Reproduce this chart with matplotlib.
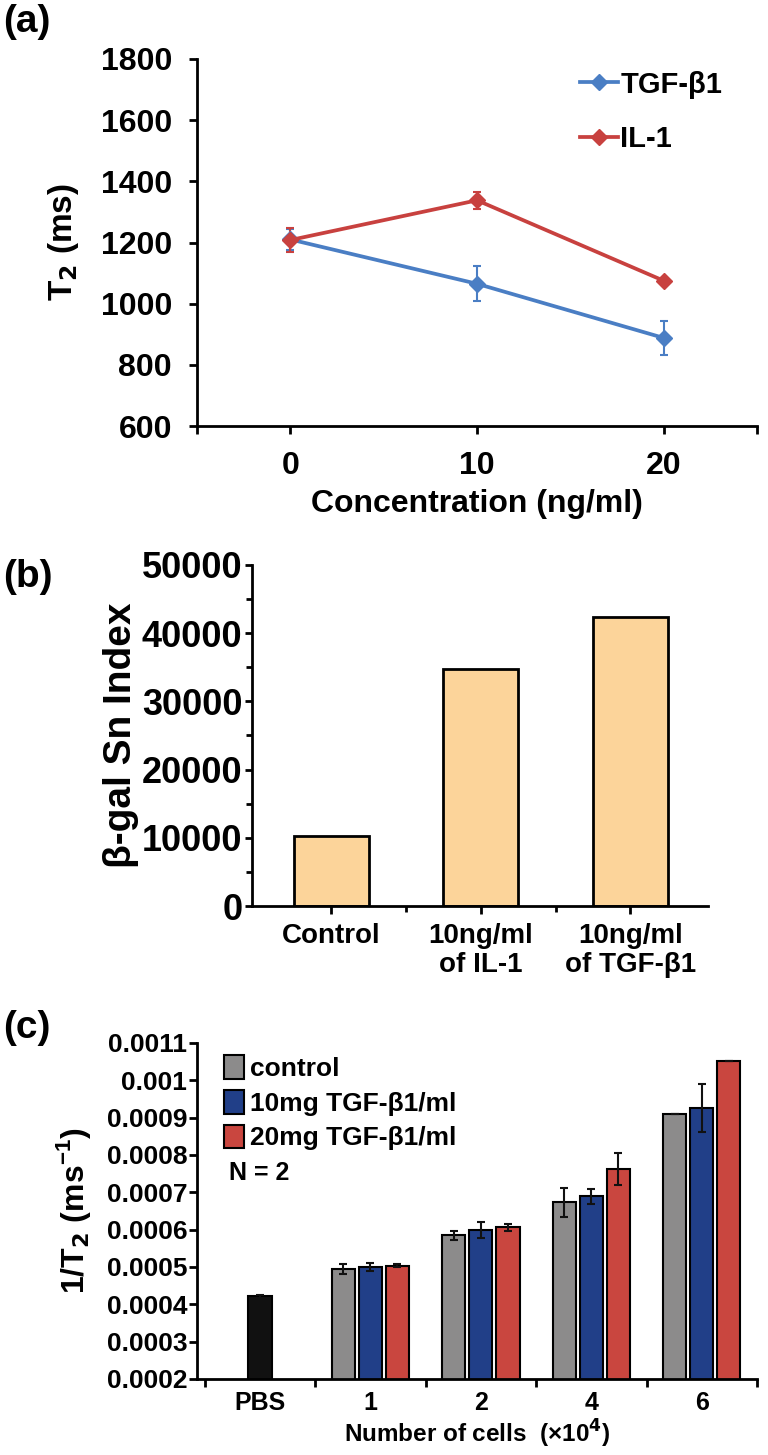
import matplotlib
matplotlib.use("Agg")
import matplotlib.pyplot as plt
import numpy as np

plt.rcParams['font.family'] = ['Liberation Sans', 'DejaVu Sans']
plt.rcParams['font.weight'] = 'bold'
plt.rcParams['mathtext.default'] = 'bf'

# ---------------- data ----------------
# (a)
conc = [0, 10, 20]
tgf_t2 = [1210, 1065, 888]
tgf_err = [35, 57, 55]
il1_t2 = [1208, 1338, 1075]
il1_err = [38, 27, 10]

# (b)
b_cats = ['Control', '10ng/ml\nof IL-1', '10ng/ml\nof TGF-β1']
b_vals = [10200, 34700, 42400]

# (c)
c_groups = ['PBS', '1', '2', '4', '6']
pbs_val = 0.000421
pbs_err = 0.000003
ctrl_vals = [0.000494, 0.000585, 0.000673, 0.000910]
ctrl_err = [0.000013, 0.000012, 0.000038, 0.0]
t10_vals = [0.000500, 0.000600, 0.000689, 0.000926]
t10_err = [0.000012, 0.000021, 0.000021, 0.000064]
t20_vals = [0.000504, 0.000606, 0.000763, 0.001053]
t20_err = [0.000005, 0.000010, 0.000043, 0.0]
c_labels = ['control', '10mg TGF-β1/ml', '20mg TGF-β1/ml']

W, H = 768, 1455
fig = plt.figure(figsize=(W / 100, H / 100), dpi=100)

def ax_px(l, t, r, b):
    return fig.add_axes([l / W, 1 - b / H, (r - l) / W, (b - t) / H])

def style(ax, lw=2.0):
    for s in ['top', 'right']:
        ax.spines[s].set_visible(False)
    for s in ['left', 'bottom']:
        ax.spines[s].set_linewidth(lw)
        ax.spines[s].set_color('black')

# ---------------- (a) ----------------
axa = ax_px(197, 59, 757, 426)
style(axa)
blue = '#4a7ec4'
red = '#c8413f'
axa.errorbar(conc, tgf_t2, yerr=tgf_err, color=blue, lw=2.7, marker='D', ms=8,
             capsize=3, elinewidth=1.5, capthick=1.5, label='TGF-β1')
axa.errorbar(conc, il1_t2, yerr=il1_err, color=red, lw=2.7, marker='D', ms=8,
             capsize=3, elinewidth=1.5, capthick=1.5, label='IL-1')
axa.set_xlim(-5, 25)
axa.set_ylim(600, 1800)
axa.set_xticks([-5, 0, 10, 20, 25])
axa.set_xticklabels(['', '0', '10', '20', ''])
axa.set_yticks(np.arange(600, 1801, 200))
axa.tick_params(axis='both', direction='out', length=6, width=2, labelsize=23)
axa.tick_params(axis='y', pad=12)
axa.tick_params(axis='x', pad=12)
axa.set_xlabel('Concentration (ng/ml)', fontsize=23, fontweight='bold', labelpad=6)
axa.set_ylabel('T$_2$ (ms)', fontsize=24, fontweight='bold', labelpad=14)
h, l = axa.get_legend_handles_labels()
h = [hh[0] for hh in h]
axa.legend(h, l, loc='upper right', bbox_to_anchor=(0.985, 1.04), frameon=False,
           fontsize=21, handlelength=1.3, handletextpad=0.1, labelspacing=0.9)
fig.text(3 / W, 1 - 22 / H, '(a)', fontsize=28, fontweight='bold', va='center', ha='left')

# ---------------- (b) ----------------
axb = ax_px(252, 565, 708, 906)
style(axb)
xb = np.arange(len(b_cats))
axb.bar(xb, b_vals, width=0.5, color='#fcd49a', edgecolor='black', linewidth=2)
axb.set_xlim(-0.53, 2.52)
axb.set_ylim(0, 50000)
axb.set_xticks(xb)
axb.set_xticklabels(b_cats, fontsize=20, linespacing=1.15)
axb.set_xticks([0.5, 1.5], minor=True)
axb.set_yticks(np.arange(0, 50001, 10000))
axb.set_yticks(np.arange(5000, 50000, 10000), minor=True)
axb.tick_params(axis='y', labelsize=26, direction='out', length=5, width=2, pad=2)
axb.tick_params(axis='x', direction='out', length=6, width=2, pad=6)
axb.tick_params(which='minor', direction='out', length=4, width=2)
axb.set_ylabel('β-gal Sn Index', fontsize=28, fontweight='bold', labelpad=2)
fig.text(3 / W, 1 - 577 / H, '(b)', fontsize=28, fontweight='bold', va='center', ha='left')

# ---------------- (c) ----------------
axc = ax_px(197, 1043, 757, 1379)
style(axc)
xc = np.arange(1, len(c_groups))
bw = 0.21
off = 0.245
ek = dict(elinewidth=1.5, capsize=3, capthick=1.5, ecolor='#111111')
axc.bar([0], [pbs_val], width=bw, color='#111111', edgecolor='black', linewidth=1.5,
        yerr=[pbs_err], error_kw=ek)
cols = ['#8c8b8b', '#213f88', '#c9463f']
for i, (vals, errs, lab) in enumerate(zip([ctrl_vals, t10_vals, t20_vals],
                                          [ctrl_err, t10_err, t20_err], c_labels)):
    axc.bar(xc + (i - 1) * off, vals, width=bw, color=cols[i], edgecolor='black',
            linewidth=1.5, label=lab)
    axc.errorbar(xc + (i - 1) * off, vals, yerr=errs, fmt='none', **ek)
axc.set_xlim(-0.57, 4.48)
axc.set_ylim(0.0002, 0.0011)
axc.set_xticks(np.arange(len(c_groups)))
axc.set_xticklabels(c_groups)
axc.set_xticks(np.arange(-0.5, 4.6, 1), minor=True)
axc.tick_params(axis='x', which='major', length=0, pad=9, labelsize=18)
axc.tick_params(axis='x', which='minor', direction='out', length=6, width=2)
yt = np.arange(0.0002, 0.00111, 0.0001)
axc.set_yticks(yt)
axc.set_yticklabels([('%.4f' % v).rstrip('0') if i in (8, 9) else '%.4f' % v
                     for i, v in enumerate(yt)])
axc.tick_params(axis='y', direction='out', length=6, width=2, labelsize=19, pad=1)
axc.set_ylabel('1/T$_2$ (ms$^{\\mathregular{-1}}$)', fontsize=23, fontweight='bold', labelpad=10)
axc.set_xlabel('Number of cells  (×10$^4$)', fontsize=17.5, fontweight='bold', labelpad=2)
leg = axc.legend(loc='upper left', bbox_to_anchor=(0.02, 1.01), frameon=False, fontsize=19,
                 handlelength=0.75, handleheight=1.0, handletextpad=0.25, labelspacing=0.33,
                 borderaxespad=0.2)
axc.text(0.058, 0.613, 'N = 2', transform=axc.transAxes, fontsize=18, fontweight='bold',
         va='center', ha='left')
fig.text(3 / W, 1 - 1028 / H, '(c)', fontsize=28, fontweight='bold', va='center', ha='left')

fig.savefig('out.png', dpi=100)
